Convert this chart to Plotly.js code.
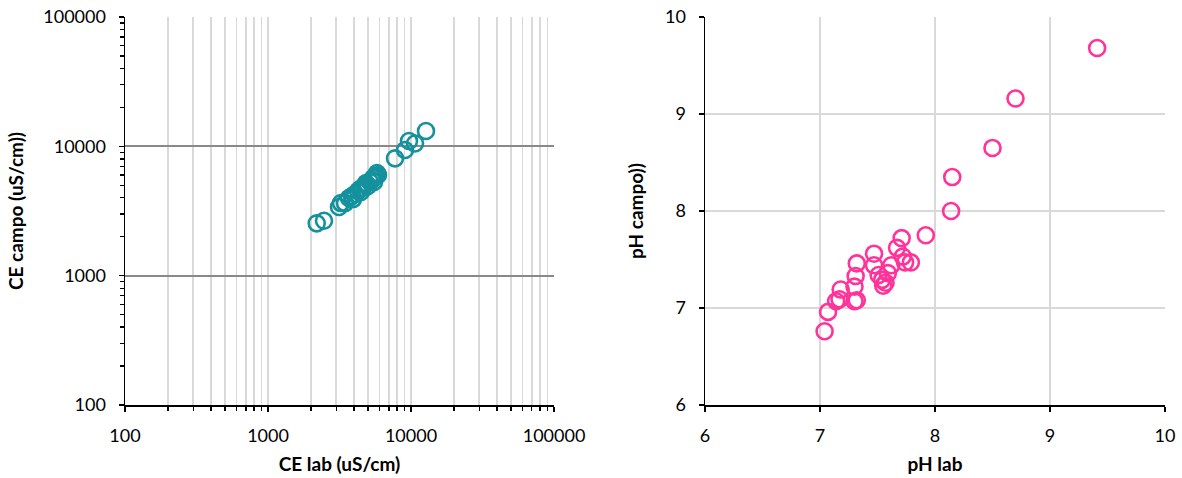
<!DOCTYPE html>
<html>
<head>
<meta charset="utf-8">
<script src="https://cdn.plot.ly/plotly-3.0.1.min.js"></script>
<style>
html,body{margin:0;padding:0;background:#fff;}
#chart{width:1182px;height:478px;}
</style>
</head>
<body>
<div id="chart"></div>
<script>
// Left chart: electrical conductivity (uS/cm)
const ceLab = [2191, 2464, 3137, 3239, 3455, 3685, 3868, 4059, 4259, 4398, 4543, 4768, 4845, 5004, 5168, 5338, 5425, 5602, 5692, 5877, 5783, 5512, 4470, 3931, 7730, 9079, 9683, 10666, 12730];
const ceCampo = [2538, 2658, 3393, 3643, 3643, 3983, 4128, 4278, 4512, 4676, 4760, 5021, 5203, 4932, 5296, 5489, 5687, 5789, 5893, 5998, 6217, 5296, 4433, 3912, 8075, 9363, 10990, 10511, 13136];

// Right chart: pH
const phLab = [7.04, 7.07, 7.14, 7.17, 7.18, 7.30, 7.32, 7.30, 7.31, 7.32, 7.47, 7.47, 7.51, 7.59, 7.54, 7.57, 7.55, 7.62, 7.67, 7.71, 7.72, 7.74, 7.79, 7.92, 8.14, 8.15, 8.50, 8.70, 9.41];
const phCampo = [6.76, 6.96, 7.07, 7.09, 7.19, 7.07, 7.08, 7.22, 7.33, 7.46, 7.56, 7.44, 7.34, 7.36, 7.29, 7.26, 7.23, 7.44, 7.62, 7.72, 7.53, 7.47, 7.47, 7.75, 8.00, 8.35, 8.65, 9.16, 9.68];

const ceTicks = [100, 1000, 10000, 100000];
const ceTickText = ['100', '1000', '10000', '100000'];
const phTicks = [6, 7, 8, 9, 10];

const FONT = 'Lato, "Open Sans", sans-serif';
const tickFont = {family: FONT, size: 18, color: '#000'};
const titleFont = {family: FONT, size: 19, color: '#000', weight: 'bold'};

const traces = [
  {
    x: ceLab, y: ceCampo, type: 'scatter', mode: 'markers',
    xaxis: 'x', yaxis: 'y',
    marker: {symbol: 'circle-open', size: 16, color: '#14919D', line: {width: 2.6, color: '#14919D'}},
    hoverinfo: 'x+y'
  },
  {
    x: phLab, y: phCampo, type: 'scatter', mode: 'markers',
    xaxis: 'x2', yaxis: 'y2',
    marker: {symbol: 'circle-open', size: 16, color: '#FF3399', line: {width: 2.6, color: '#FF3399'}},
    hoverinfo: 'x+y'
  }
];

const layout = {
  width: 1182, height: 478,
  margin: {l: 0, r: 0, t: 0, b: 0},
  paper_bgcolor: '#fff', plot_bgcolor: '#fff',
  showlegend: false,
  xaxis: {
    type: 'log', range: [2, 5], domain: [125/1182, 554/1182], anchor: 'y',
    tickvals: ceTicks, ticktext: ceTickText,
    showgrid: true, gridcolor: '#D9D9D9', gridwidth: 1.5,
    showline: true, linecolor: '#000', linewidth: 1.5,
    ticks: 'outside', ticklen: 5, tickcolor: '#000', tickwidth: 1.5,
    minor: {dtick: 'D1', ticks: 'outside', ticklen: 4, tickcolor: '#000', tickwidth: 1.3, showgrid: true, gridcolor: '#D9D9D9', gridwidth: 1.5},
    ticklabelstandoff: 9,
    tickfont: tickFont, zeroline: false,
    title: {text: 'CE lab (uS/cm)', font: titleFont, standoff: 12}
  },
  yaxis: {
    type: 'log', range: [2, 5], domain: [1 - 405/478, 1 - 17/478], anchor: 'x',
    tickvals: ceTicks, ticktext: ceTickText,
    showgrid: true, gridcolor: '#898989', gridwidth: 2,
    showline: true, linecolor: '#000', linewidth: 1.5,
    ticks: 'outside', ticklen: 5, tickcolor: '#000', tickwidth: 1.5,
    minor: {dtick: 'D1', ticks: 'outside', ticklen: 4, tickcolor: '#000', tickwidth: 1.3, showgrid: false},
    ticklabelstandoff: 9,
    tickfont: tickFont, zeroline: false,
    title: {text: 'CE campo (uS/cm))', font: titleFont, standoff: 14}
  },
  xaxis2: {
    range: [6, 10], domain: [705/1182, 1165/1182], anchor: 'y2',
    tickvals: phTicks,
    showgrid: true, gridcolor: '#D9D9D9', gridwidth: 1.5,
    showline: true, linecolor: '#000', linewidth: 1.5,
    ticks: 'outside', ticklen: 5, tickcolor: '#000', tickwidth: 1.5,
    ticklabelstandoff: 9,
    tickfont: tickFont, zeroline: false,
    title: {text: 'pH lab', font: titleFont, standoff: 12}
  },
  yaxis2: {
    range: [6, 10], domain: [1 - 405/478, 1 - 17/478], anchor: 'x2',
    tickvals: phTicks,
    showgrid: true, gridcolor: '#D9D9D9', gridwidth: 1.5,
    showline: true, linecolor: '#000', linewidth: 1.5,
    ticks: 'outside', ticklen: 5, tickcolor: '#000', tickwidth: 1.5,
    ticklabelstandoff: 9,
    tickfont: tickFont, zeroline: false,
    title: {text: 'pH campo))', font: titleFont, standoff: 16}
  }
};

Plotly.newPlot('chart', traces, layout, {staticPlot: true, displayModeBar: false});
</script>
</body>
</html>
